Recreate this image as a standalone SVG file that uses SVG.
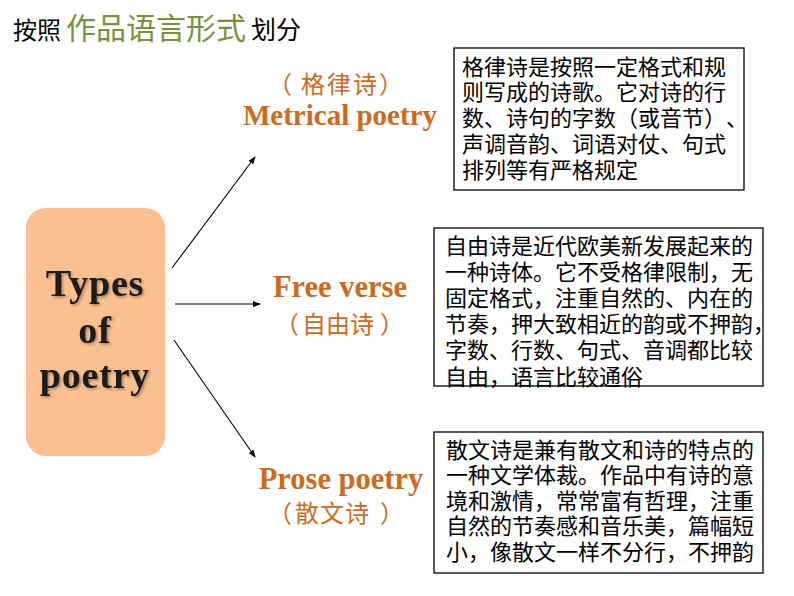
<svg xmlns="http://www.w3.org/2000/svg" width="794" height="596" viewBox="0 0 794 596">
<style>
text{text-spacing-trim:space-all}
.cjk{font-family:"Noto Sans CJK SC","Noto Sans",sans-serif}
.box{fill:#fff;stroke:#000;stroke-width:1.3}
.bt{font-family:"Noto Sans CJK SC",sans-serif;font-size:22px;fill:#000}
.en{font-family:"Liberation Serif","Noto Sans CJK SC",serif;font-weight:bold;fill:#CF6A1C;text-anchor:middle}
.zh{font-family:"Noto Sans CJK SC",sans-serif;font-size:24px;fill:#CF6A1C}
.arr{stroke:#000;stroke-width:1.1;fill:none;marker-end:url(#ah)}
</style>
<defs>
<marker id="ah" markerWidth="8" markerHeight="6" refX="7" refY="3" orient="auto" markerUnits="userSpaceOnUse">
<path d="M0,0 L8,3 L0,6 Z" fill="#000"/>
</marker>
<filter id="sh" x="-10%" y="-10%" width="130%" height="130%">
<feDropShadow dx="1.5" dy="1.5" stdDeviation="1" flood-color="#000" flood-opacity="0.35"/>
</filter>
</defs>
<rect width="794" height="596" fill="#fff"/>
<g id="title">
<text x="13" y="39" class="cjk" font-size="24" fill="#000">按照<tspan x="66" font-size="30" fill="#76923C">作品语言形式</tspan><tspan x="251" font-size="25">划分</tspan></text>
</g>
<g id="types">
<rect x="26" y="208" width="139" height="248" rx="20" ry="20" fill="#FAC090"/>
<g font-family="Liberation Serif,serif" font-weight="bold" font-size="38" fill="#1a1a1a" text-anchor="middle" letter-spacing="0.8" filter="url(#sh)">
<text x="95" y="296">Types</text>
<text x="95" y="343">of</text>
<text x="95" y="388">poetry</text>
</g>
</g>
<g id="connectors">
<line class="arr" x1="172" y1="268" x2="255" y2="157"/>
<line class="arr" x1="175" y1="304" x2="260" y2="304"/>
<line class="arr" x1="174" y1="340" x2="255" y2="457"/>
</g>
<g id="metrical">
<text x="268 301 327 353 379" y="93" class="zh">（格律诗）</text>
<text x="340" y="125" class="en" font-size="29">Metrical poetry</text>
</g>
<g id="free">
<text x="340" y="297" class="en" font-size="30.5">Free verse</text>
<text x="275 302 326 350 380" y="333" class="zh">（自由诗）</text>
</g>
<g id="prose">
<text x="341" y="489" class="en" font-size="30.5">Prose poetry</text>
<text x="268 295 320 345 380" y="522" class="zh">（散文诗）</text>
</g>
<g id="desc-metrical">
<rect class="box" x="454" y="48" width="290" height="142"/>
<text class="bt" x="462" y="74.5">
<tspan x="462">格律诗是按照一定格式和规</tspan>
<tspan x="462" dy="25.8">则写成的诗歌。它对诗的行</tspan>
<tspan x="462" dy="25.8">数、诗句的字数（或音节）、</tspan>
<tspan x="462" dy="25.8">声调音韵、词语对仗、句式</tspan>
<tspan x="462" dy="25.8">排列等有严格规定</tspan>
</text>
</g>
<g id="desc-free">
<rect class="box" x="434" y="228" width="329" height="158"/>
<text class="bt" x="445" y="253.5" font-size="21.5">
<tspan x="445">自由诗是近代欧美新发展起来的</tspan>
<tspan x="445" dy="26.2">一种诗体。它不受格律限制，无</tspan>
<tspan x="445" dy="26.2">固定格式，注重自然的、内在的</tspan>
<tspan x="445" dy="26.2">节奏，押大致相近的韵或不押韵，</tspan>
<tspan x="445" dy="26.2">字数、行数、句式、音调都比较</tspan>
<tspan x="445" dy="26.2">自由，语言比较通俗</tspan>
</text>
</g>
<g id="desc-prose">
<rect class="box" x="434" y="432" width="329" height="141"/>
<text class="bt" x="446" y="457.5">
<tspan x="446">散文诗是兼有散文和诗的特点的</tspan>
<tspan x="446" dy="25.6">一种文学体裁。作品中有诗的意</tspan>
<tspan x="446" dy="25.6">境和激情，常常富有哲理，注重</tspan>
<tspan x="446" dy="25.6">自然的节奏感和音乐美，篇幅短</tspan>
<tspan x="446" dy="25.6">小，像散文一样不分行，不押韵</tspan>
</text>
</g>
</svg>
